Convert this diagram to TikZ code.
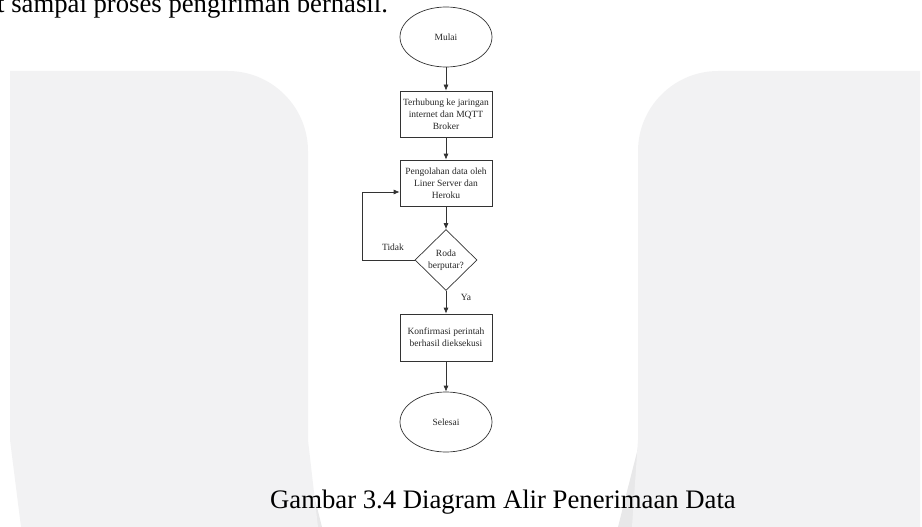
\documentclass[tikz,border=0pt]{standalone}
\usepackage{fontspec}
\setmainfont{Liberation Serif}
\usetikzlibrary{shapes.geometric,arrows.meta}
\definecolor{bgc}{HTML}{F2F2F3}
\definecolor{bgd}{HTML}{E8E8E9}
\definecolor{ln}{HTML}{333333}
\tikzset{
  flow/.style={draw=ln, line width=0.7pt, text=black!85, font=\fontsize{9.5}{12}\selectfont, align=center},
  procbox/.style={flow, rectangle, minimum width=92pt, minimum height=46pt, inner sep=0pt},
  termin/.style={flow, ellipse, minimum width=92pt, minimum height=60pt, inner sep=0pt},
  decide/.style={flow, diamond, minimum width=62pt, minimum height=61pt, inner sep=0pt},
  arr/.style={draw=ln, line width=0.7pt, -{Latex[length=6pt,width=5pt]}},
  lbl/.style={text=black!85, font=\fontsize{9.5}{12}\selectfont, inner sep=0pt},
  big/.style={font=\fontsize{26.7}{30}\selectfont, inner sep=0pt}
}
\begin{document}
\begin{tikzpicture}[x=1pt,y=-1pt]
\useasboundingbox (0,0) rectangle (922,527);
\clip (0,0) rectangle (922,527);
% background watermark shapes
\fill[bgd] (300,440) -- (322,527) -- (300,527) -- cycle;
\fill[bgd] (640,440) -- (618,527) -- (640,527) -- cycle;
\fill[bgc] (21,527) -- (10,440) -- (10,71) -- (228,71) .. controls (272,71) and (308,107) .. (308,151) -- (308,440) -- (318,527) -- cycle;
\fill[bgc] (920,527) -- (920,71) -- (718,71) .. controls (674,71) and (638,107) .. (638,151) -- (638,440) -- (632,527) -- cycle;
% top text (cut at the top edge, as in the reference)
\node[big, anchor=base west] (toptext) at (-3,12.5) {t sampai proses pengiriman berhasil.};
% flowchart
\node[termin] (start) at (446,37) {Mulai};
\node[procbox] (b1) at (446,114) {Terhubung ke jaringan\\internet dan MQTT\\Broker};
\node[procbox] (b2) at (446,183) {Pengolahan data oleh\\Liner Server dan\\Heroku};
\node[decide] (dec) at (446,260) {Roda\\berputar?};
\node[procbox, minimum height=47pt] (b3) at (446,337.5) {Konfirmasi perintah\\berhasil dieksekusi};
\node[termin] (stop) at (446,422) {Selesai};
\coordinate (lp) at (362,192);
\draw[arr] (start) -- (b1);
\draw[arr] (b1) -- (b2);
\draw[arr] (b2) -- (dec);
\draw[arr] (dec) -- (b3);
\draw[arr] (b3) -- (stop);
\draw[arr] (dec.west) -| (lp) -- (b2.west |- lp);
\node[lbl] (tidak) at (393,247) {Tidak};
\node[lbl] (ya) at (466,297) {Ya};
% caption
\node[big, anchor=base west] (caption) at (270,508) {Gambar 3.4 Diagram Alir Penerimaan Data};
\end{tikzpicture}
\end{document}
